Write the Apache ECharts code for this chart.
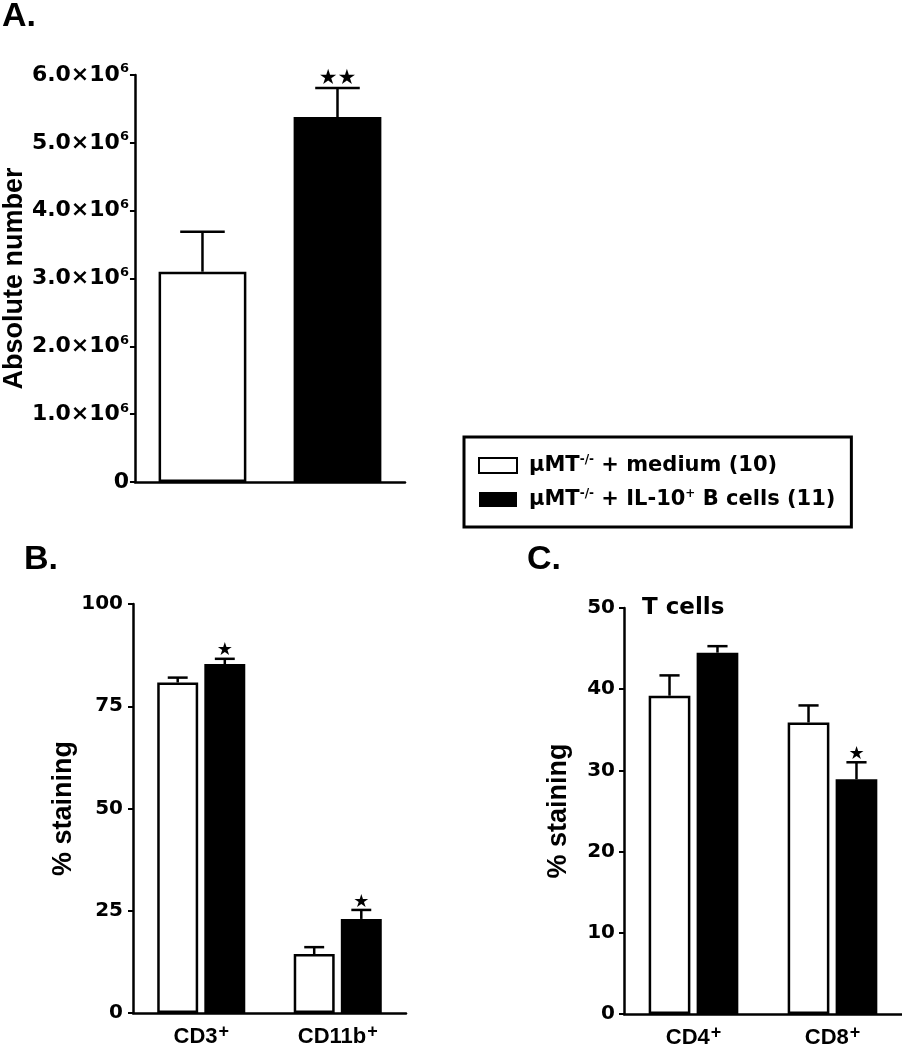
<!DOCTYPE html>
<html>
<head>
<meta charset="utf-8">
<script src="https://cdn.jsdelivr.net/npm/echarts@6/dist/echarts.min.js"></script>
<style>
html,body{margin:0;padding:0;background:#fff;}
#chart{width:902px;height:1050px;}
</style>
</head>
<body>
<div id="chart"></div>
<script>
// ---------- data ----------
const legendNames = ['μMT-/- + medium (10)', 'μMT-/- + IL-10+ B cells (11)'];

const aCategories = ['medium', 'IL-10+ B cells'];
const aMeans = [3.10e6, 5.38e6];
const aErrors = [0.59e6, 0.43e6];
const aSig = ['', '★★'];
const aYTicks = [0, 1e6, 2e6, 3e6, 4e6, 5e6, 6e6];

const bCategories = ['CD3', 'CD11b'];
const bSup = ['+', '+'];
const bMedium = [80.8, 14.4];
const bMediumErr = [1.2, 1.7];
const bIL10 = [85.3, 23.0];
const bIL10Err = [1.3, 2.2];
const bSig = ['★', '★'];
const bYTicks = [0, 25, 50, 75, 100];

const cCategories = ['CD4', 'CD8'];
const cSup = ['+', '+'];
const cMedium = [39.2, 35.9];
const cMediumErr = [2.5, 2.1];
const cIL10 = [44.5, 28.9];
const cIL10Err = [0.8, 2.1];
const cSig = ['', '★'];
const cYTicks = [0, 10, 20, 30, 40, 50];

// ---------- styling ----------
const FA = 'Liberation Sans, Arial, sans-serif';
const FD = 'DejaVu Sans, sans-serif';
const LW = 2.5;
const whiteStyle = {color: '#fff', borderColor: '#000', borderWidth: LW};
const blackStyle = {color: '#000', borderColor: '#000', borderWidth: 0};

function yAxisCfg(gi, ticks, name, nameGap, labelFmt, rich, margin) {
  return {
    gridIndex: gi, type: 'value',
    min: ticks[0], max: ticks[ticks.length - 1], interval: ticks[1] - ticks[0],
    name: name, nameLocation: 'middle', nameGap: nameGap, nameRotate: 90,
    nameTextStyle: {fontFamily: FA, fontWeight: 'bold', fontSize: 27, color: '#000'},
    axisLine: {show: true, lineStyle: {color: '#000', width: LW}},
    axisTick: {show: true, length: 5, lineStyle: {color: '#000', width: 2}},
    axisLabel: {formatter: labelFmt, rich: rich, margin: margin, color: '#000'},
    splitLine: {show: false}
  };
}
function xAxisCfg(gi, cats, sups, showLabels) {
  return {
    gridIndex: gi, type: 'category', data: cats,
    axisLine: {lineStyle: {color: '#000', width: LW}},
    axisTick: {show: false},
    axisLabel: {
      show: showLabels, margin: 10, color: '#000',
      formatter: function (v, i) { return '{b|' + v + '}{s|' + (sups ? sups[i] : '') + '}'; },
      rich: {
        b: {fontFamily: FA, fontWeight: 'bold', fontSize: 22, color: '#000'},
        s: {fontFamily: FA, fontWeight: 'bold', fontSize: 18, color: '#000', padding: [0, 0, 10, 1]}
      }
    }
  };
}
function errSeries(gi, means, errs, sigs, offsetFrac, capFrac, starSize) {
  return {
    type: 'custom', xAxisIndex: gi, yAxisIndex: gi, silent: true, z: 5, clip: false,
    data: means.map(function (m, i) { return [i, m, errs[i]]; }),
    encode: {x: 0, y: 1},
    renderItem: function (params, api) {
      const i = api.value(0), m = api.value(1), e = api.value(2);
      const band = api.size([1, 0])[0];
      const base = api.coord([i, m]);
      const top = api.coord([i, m + e]);
      const x = base[0] + offsetFrac * band;
      const hw = capFrac * band;
      const children = [
        {type: 'line', shape: {x1: x, y1: base[1], x2: x, y2: top[1]}, style: {stroke: '#000', lineWidth: LW}},
        {type: 'line', shape: {x1: x - hw, y1: top[1], x2: x + hw, y2: top[1]}, style: {stroke: '#000', lineWidth: LW}}
      ];
      const s = sigs[params.dataIndex];
      if (s) {
        children.push({type: 'text', style: {
          text: s, x: x, y: top[1] + 1, align: 'center', verticalAlign: 'bottom',
          textAlign: 'center', textVerticalAlign: 'bottom',
          fontFamily: FD, fontSize: starSize, fill: '#000'
        }});
      }
      return {type: 'group', children: children};
    }
  };
}

const tickRichBig = {
  b: {fontFamily: FD, fontWeight: 'bold', fontSize: 22, color: '#000'},
  s: {fontFamily: FD, fontWeight: 'bold', fontSize: 13, color: '#000', padding: [0, 0, 12, 0]}
};
const tickRich = {
  b: {fontFamily: FD, fontWeight: 'bold', fontSize: 20, color: '#000'}
};
function fmtA(v) {
  if (v === 0) return '{b|0}';
  return '{b|' + (v / 1e6).toFixed(1) + '×10}{s|6}';
}
function fmtPlain(v) { return '{b|' + v + '}'; }

const groupOffset = (0.30 + 0.30 * 0.15) / 2;

const option = {
  animation: false,
  backgroundColor: '#fff',
  title: [
    {text: 'A.', left: 2, top: 0, padding: 0, textStyle: {fontFamily: FA, fontWeight: 'bold', fontSize: 34, color: '#000'}},
    {text: 'B.', left: 24, top: 543, padding: 0, textStyle: {fontFamily: FA, fontWeight: 'bold', fontSize: 34, color: '#000'}},
    {text: 'C.', left: 527, top: 543, padding: 0, textStyle: {fontFamily: FA, fontWeight: 'bold', fontSize: 34, color: '#000'}},
    {text: 'T cells', left: 642, top: 597, padding: 0, textStyle: {fontFamily: FD, fontWeight: 'bold', fontSize: 23, color: '#000'}}
  ],
  legend: {
    data: legendNames, orient: 'vertical', left: 464, top: 437,
    padding: [17, 16, 17, 14], borderWidth: 3, borderColor: '#000',
    icon: 'rect',
    itemWidth: 38, itemHeight: 15, itemGap: 12, selectedMode: false,
    formatter: function (name) {
      if (name === legendNames[0]) return '{m|μMT}{s|-/-}{n| + medium (10)}';
      return '{m|μMT}{s|-/-}{n| + IL-10}{s|+}{n| B cells (11)}';
    },
    textStyle: {
      color: '#000',
      rich: {
        m: {fontFamily: FD, fontWeight: 'bold', fontSize: 21, color: '#000', padding: [0, 0, 0, 7]},
        n: {fontFamily: FD, fontWeight: 'bold', fontSize: 21, color: '#000'},
        s: {fontFamily: FD, fontWeight: 'bold', fontSize: 12, color: '#000', padding: [0, 0, 11, 0]}
      }
    }
  },
  grid: [
    {left: 133, top: 75, width: 272, height: 407},
    {left: 133, top: 604, width: 273, height: 409},
    {left: 624, top: 608, width: 278, height: 406}
  ],
  xAxis: [
    xAxisCfg(0, aCategories, null, false),
    xAxisCfg(1, bCategories, bSup, true),
    xAxisCfg(2, cCategories, cSup, true)
  ],
  yAxis: [
    yAxisCfg(0, aYTicks, 'Absolute number', 96, fmtA, tickRichBig, 6),
    yAxisCfg(1, bYTicks, '% staining', 53, fmtPlain, tickRich, 10),
    yAxisCfg(2, cYTicks, '% staining', 52, fmtPlain, tickRich, 9)
  ],
  series: [
    {type: 'bar', name: legendNames[0], xAxisIndex: 0, yAxisIndex: 0, barWidth: '65%', barGap: '-100%',
      data: [aMeans[0], '-'], itemStyle: whiteStyle},
    {type: 'bar', name: legendNames[1], xAxisIndex: 0, yAxisIndex: 0, barWidth: '65%', barGap: '-100%',
      data: ['-', aMeans[1]], itemStyle: blackStyle},
    errSeries(0, aMeans, aErrors, aSig, 0, 0.165, 21),

    {type: 'bar', name: legendNames[0], xAxisIndex: 1, yAxisIndex: 1, barWidth: '30%', barGap: '15%',
      data: bMedium, itemStyle: whiteStyle},
    {type: 'bar', name: legendNames[1], xAxisIndex: 1, yAxisIndex: 1, barWidth: '30%', barGap: '15%',
      data: bIL10, itemStyle: blackStyle},
    errSeries(1, bMedium, bMediumErr, ['', ''], -groupOffset, 0.073, 18),
    errSeries(1, bIL10, bIL10Err, bSig, groupOffset, 0.073, 18),

    {type: 'bar', name: legendNames[0], xAxisIndex: 2, yAxisIndex: 2, barWidth: '30%', barGap: '15%',
      data: cMedium, itemStyle: whiteStyle},
    {type: 'bar', name: legendNames[1], xAxisIndex: 2, yAxisIndex: 2, barWidth: '30%', barGap: '15%',
      data: cIL10, itemStyle: blackStyle},
    errSeries(2, cMedium, cMediumErr, ['', ''], -groupOffset, 0.0725, 18),
    errSeries(2, cIL10, cIL10Err, cSig, groupOffset, 0.0725, 18)
  ]
};

const chart = echarts.init(document.getElementById('chart'), null, {renderer: 'canvas'});
chart.setOption(option);
</script>
</body>
</html>
